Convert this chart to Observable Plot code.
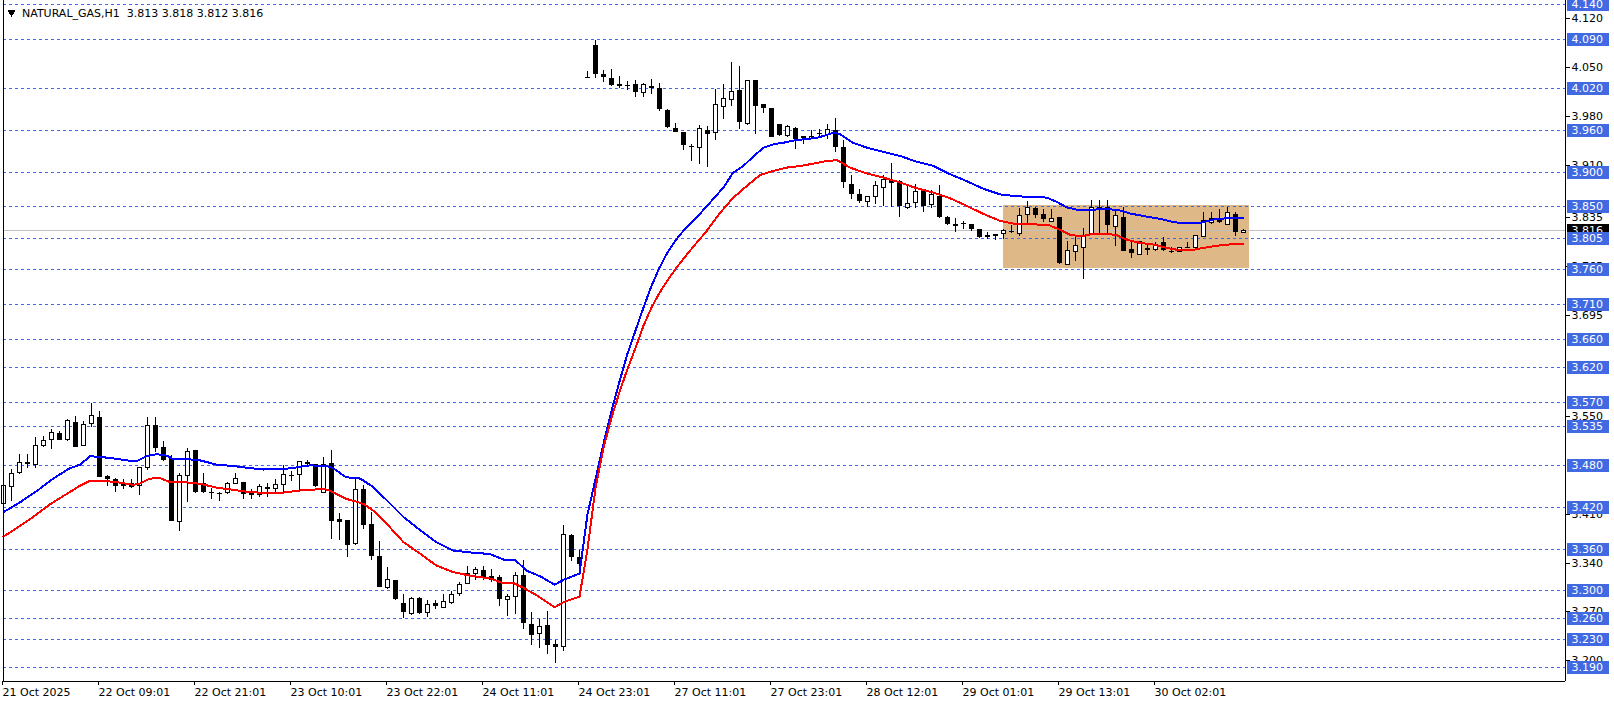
<!DOCTYPE html>
<html><head><meta charset="utf-8">
<script src="https://cdn.jsdelivr.net/npm/d3@7"></script>
<script src="https://cdn.jsdelivr.net/npm/@observablehq/plot@0.6"></script>
<style>
html,body{margin:0;padding:0;background:#fff;}
svg{display:block}
</style></head><body><div id="chart"></div>
<script>
const title = "NATURAL_GAS,H1  3.813 3.818 3.812 3.816";
// one row per H1 bar: [open, high, low, close]
const ohlc = [
[3.425,3.455,3.410,3.451],[3.449,3.474,3.428,3.467],[3.469,3.495,3.467,3.484],[3.4845,3.495,3.476,3.481],
[3.480,3.520,3.4755,3.507],[3.508,3.521,3.506,3.5145],[3.5156,3.532,3.503,3.527],[3.526,3.528,3.515,3.516],
[3.5165,3.545,3.5145,3.544],[3.542,3.550,3.505,3.506],[3.508,3.543,3.507,3.5375],[3.5385,3.568,3.5337,3.550],
[3.549,3.5576,3.462,3.463],[3.464,3.466,3.450,3.459],[3.459,3.461,3.4406,3.450],[3.452,3.459,3.445,3.451],
[3.4535,3.459,3.447,3.448],[3.450,3.476,3.437,3.4755],[3.4764,3.548,3.4726,3.536],[3.5375,3.548,3.499,3.5036],
[3.5056,3.5146,3.486,3.487],[3.490,3.4946,3.399,3.400],[3.399,3.469,3.3857,3.464],[3.464,3.504,3.4263,3.499],
[3.501,3.5017,3.439,3.4406],[3.4545,3.4678,3.4397,3.4406],[3.4415,3.4468,3.431,3.4395],[3.4395,3.4406,3.4277,3.4392],
[3.4397,3.455,3.438,3.4526],[3.4535,3.469,3.4526,3.4597],[3.456,3.456,3.431,3.4377],[3.4395,3.4454,3.431,3.4368],
[3.4372,3.4526,3.4334,3.4487],[3.4478,3.4535,3.4334,3.445],[3.4468,3.4597,3.4406,3.4511],[3.4516,3.4798,3.4406,3.4655],
[3.4645,3.4717,3.4573,3.465],[3.4655,3.486,3.4445,3.4841],[3.4836,3.487,3.480,3.4808],[3.4812,3.4817,3.4478,3.4492],
[3.440,3.4917,3.4397,3.481],[3.483,3.5015,3.374,3.400],[3.403,3.4112,3.373,3.3977],[3.4003,3.401,3.3478,3.3645],
[3.3678,3.460,3.3645,3.4442],[3.4456,3.4504,3.3883,3.3931],[3.3955,3.4122,3.3439,3.3492],[3.3487,3.3707,3.3048,3.3048],
[3.3038,3.3334,3.3024,3.3153],[3.3153,3.3153,3.2871,3.2881],[3.2823,3.2952,3.2609,3.2690],[3.2666,3.2905,3.2656,3.289],
[3.289,3.290,3.2666,3.2675],[3.269,3.2857,3.2618,3.2795],[3.2823,3.2857,3.2738,3.2776],[3.2761,3.2943,3.2752,3.2838],
[3.2823,3.299,3.2809,3.2943],[3.2952,3.312,3.2928,3.3086],[3.3096,3.3358,3.3086,3.3248],[3.3248,3.3334,3.3153,3.3296],
[3.3287,3.3358,3.3153,3.3191],[3.3204,3.3304,3.3122,3.3146],[3.3191,3.3229,3.2779,3.2881],[3.2866,3.2952,3.2631,3.2914],
[3.2919,3.3263,3.2666,3.3215],[3.3229,3.3442,3.2454,3.2535],[3.2523,3.2693,3.2216,3.2359],[3.2383,3.2597,3.2177,3.2488],
[3.2502,3.2702,3.2087,3.2216],[3.223,3.2287,3.1962,3.2192],[3.2192,3.3934,3.2134,3.3805],[3.3791,3.3815,3.3423,3.3481],
[3.348,3.3586,3.327,3.3376],[4.036,4.044,4.036,4.036],[4.0806,4.0878,4.0338,4.040],[4.040,4.0458,4.0281,4.0353],
[4.0343,4.0472,4.0219,4.0243],[4.0248,4.0362,4.020,4.0224],[4.0243,4.0295,4.0171,4.0243],[4.0257,4.0315,4.0066,4.0138],
[4.0128,4.0272,4.0066,4.0248],[4.0219,4.032,4.0114,4.020],[4.020,4.0272,3.9866,3.989],[3.9875,3.989,3.9627,3.9637],
[3.9627,3.9699,3.957,3.957],[3.956,3.956,3.9302,3.9384],[3.9367,3.940,3.915,3.9362],[3.9341,3.967,3.9112,3.9613],
[3.9598,3.9646,3.9064,3.9541],[3.9555,4.0186,3.9446,3.9961],[3.9937,4.0248,3.9756,4.0042],[4.0028,4.0563,3.9933,4.0143],
[4.0162,4.0506,3.9603,3.9708],[3.9694,4.0315,3.966,4.0305],[4.0305,4.0305,3.9532,3.9937],[3.9961,3.9961,3.9837,3.9909],
[3.9904,3.9904,3.949,3.9493],[3.9675,3.9675,3.9503,3.9527],[3.9513,3.966,3.9493,3.9646],[3.9627,3.9637,3.9322,3.947],
[3.9508,3.9508,3.940,3.9494],[3.9474,3.960,3.946,3.9503],[3.9546,3.9603,3.950,3.9546],[3.9532,3.9675,3.946,3.9598],
[3.9589,3.977,3.928,3.935],[3.935,3.945,3.877,3.885],[3.8817,3.8946,3.8612,3.8683],[3.8674,3.8745,3.855,3.8578],
[3.8574,3.8645,3.8492,3.8645],[3.865,3.8865,3.8531,3.8803],[3.8779,3.8946,3.8502,3.8889],[3.8875,3.9123,3.8492,3.8836],
[3.886,3.8875,3.8349,3.8502],[3.8482,3.8817,3.8468,3.8545],[3.8564,3.8817,3.8482,3.8717],[3.8717,3.8741,3.8421,3.8502],
[3.8526,3.8741,3.8483,3.8674],[3.865,3.8803,3.834,3.8349],[3.8349,3.8358,3.823,3.8244],[3.8244,3.8339,3.8134,3.8225],
[3.8254,3.8287,3.8182,3.8258],[3.8244,3.8244,3.815,3.8177],[3.8177,3.818,3.8053,3.8063],[3.8063,3.8134,3.8039,3.8087],
[3.8101,3.8101,3.8025,3.8077],[3.8111,3.8182,3.8039,3.8149],[3.8144,3.823,3.812,3.8147],[3.812,3.8476,3.808,3.8366],
[3.8387,3.8581,3.8257,3.8486],[3.8476,3.8492,3.8333,3.8381],[3.839,3.8462,3.8271,3.8319],[3.8292,3.8462,3.8271,3.8335],
[3.8352,3.8355,3.7674,3.7684],[3.7674,3.7999,3.7665,3.7875],[3.7855,3.808,3.7722,3.7937],[3.7913,3.819,3.7459,3.8089],
[3.8104,3.8591,3.8094,3.8486],[3.8486,3.859,3.8104,3.849],[3.8495,3.859,3.8104,3.8233],[3.8214,3.8462,3.7937,3.8366],
[3.8352,3.8486,3.786,3.7865],[3.7889,3.8008,3.776,3.7827],[3.7817,3.8008,3.7808,3.7994],[3.7899,3.7951,3.7808,3.7894],
[3.7889,3.7985,3.7865,3.7951],[3.7985,3.8066,3.7865,3.7879],[3.7865,3.7913,3.7832,3.7841],[3.785,3.7922,3.7841,3.7913],
[3.7913,3.7994,3.7903,3.7918],[3.7913,3.808,3.7903,3.808],[3.8066,3.8414,3.8056,3.8304],[3.8266,3.8414,3.8247,3.8333],
[3.8342,3.8462,3.8257,3.8271],[3.8247,3.8486,3.8233,3.8414],[3.839,3.8414,3.808,3.8128],[3.813,3.818,3.812,3.816]
];
// indicator lines: [bar, price]
const maBlue = [[0,3.413],[2.06,3.427],[4.15,3.443],[6.2,3.461],[8.3,3.476],[9.6,3.481],[10.8,3.493],[12.1,3.492],[13.7,3.490],[15.4,3.487],[16.65,3.486],[17.9,3.493],[19.15,3.496],[20.4,3.494],[21.2,3.489],[22.9,3.489],[24.6,3.487],[26.65,3.481],[28.7,3.479],[30.8,3.476],[32.5,3.474],[35,3.4745],[36.65,3.477],[38.3,3.480],[40.4,3.479],[41.2,3.476],[42.8,3.463],[44.6,3.461],[46.2,3.449],[47.9,3.430],[50,3.406],[52.1,3.387],[54.1,3.370],[56.2,3.358],[58.5,3.355],[60.8,3.353],[62.5,3.345],[64,3.344],[65.4,3.329],[67.1,3.321],[68.9,3.309],[70,3.316],[72,3.325],[73,3.41],[74,3.46],[75,3.511],[76,3.558],[77,3.60],[78,3.64],[79,3.673],[80,3.706],[81,3.737],[82,3.763],[83,3.785],[84,3.802],[85,3.816],[86.65,3.835],[88.3,3.856],[90,3.878],[91.2,3.899],[92.5,3.909],[93.8,3.923],[95,3.935],[96.3,3.940],[97.5,3.942],[98.7,3.945],[100,3.947],[101.65,3.949],[102.9,3.953],[103.7,3.9565],[104.6,3.954],[106.2,3.942],[107.9,3.935],[110,3.929],[112.1,3.923],[114.1,3.915],[116.2,3.909],[118.3,3.897],[120.4,3.887],[122.5,3.876],[124.6,3.868],[126.6,3.8655],[128.7,3.864],[130.4,3.8635],[131.7,3.857],[132.9,3.8495],[134.2,3.846],[135.9,3.846],[137.5,3.847],[139.2,3.846],[140.9,3.8405],[143,3.836],[144.6,3.833],[146.3,3.828],[148,3.827],[149.6,3.827],[151.3,3.832],[153,3.834],[155,3.834]];
const maRed = [[0,3.378],[1.2,3.3866],[3.7,3.406],[5.8,3.424],[7.9,3.439],[9.6,3.451],[10.8,3.458],[12.1,3.458],[14.15,3.456],[16.2,3.452],[17.1,3.454],[18.3,3.461],[19.6,3.4616],[20.8,3.456],[22.5,3.456],[24.6,3.4535],[26.65,3.448],[28.7,3.445],[30.8,3.4415],[32.9,3.4405],[35,3.441],[37.1,3.444],[39.6,3.4458],[40.2,3.446],[41.2,3.4415],[42.8,3.432],[43.9,3.4286],[45,3.4248],[46.2,3.4153],[47.9,3.3962],[50,3.370],[52.1,3.3533],[54.1,3.3365],[56.2,3.327],[58.3,3.322],[60.8,3.318],[62.5,3.311],[63.8,3.311],[65,3.3045],[66.7,3.2935],[68.9,3.2767],[70,3.284],[72,3.292],[73,3.36],[74,3.447],[75,3.505],[76,3.548],[77,3.585],[78,3.618],[79,3.648],[80,3.680],[81,3.706],[82,3.727],[83,3.745],[84,3.761],[85,3.776],[86,3.790],[87.9,3.8157],[89.6,3.842],[91.2,3.863],[92.9,3.880],[94.6,3.896],[96.2,3.9016],[97.9,3.9064],[99.6,3.9088],[101.2,3.912],[102.9,3.916],[104.2,3.917],[105.8,3.9065],[107.9,3.898],[110,3.892],[112.1,3.885],[114.1,3.877],[116.2,3.8707],[118.3,3.8626],[120.4,3.8516],[122.5,3.840],[124.6,3.830],[126.6,3.8253],[128.7,3.8253],[130.8,3.8235],[132.1,3.817],[133.3,3.8104],[134.6,3.808],[136.2,3.8113],[137.9,3.8118],[139.2,3.8094],[140.4,3.8032],[142.1,3.7985],[143.8,3.7961],[145.4,3.7913],[147.1,3.7879],[148.8,3.7889],[150.4,3.7922],[152.1,3.7951],[153.8,3.797],[155,3.797]];
const gridLevels = [4.140,4.090,4.020,3.960,3.900,3.850,3.805,3.760,3.710,3.660,3.620,3.570,3.535,3.480,3.420,3.360,3.300,3.260,3.230,3.190];
const priceTicks = [4.120,4.050,3.980,3.910,3.835,3.765,3.695,3.550,3.410,3.340,3.270,3.200];
const timeTickBars = [0,12,24,36,48,60,72,84,96,108,120,132,144];
const timeLabels = ["21 Oct 2025","22 Oct 09:01","22 Oct 21:01","23 Oct 10:01","23 Oct 22:01","24 Oct 11:01","24 Oct 23:01","27 Oct 11:01","27 Oct 23:01","28 Oct 12:01","29 Oct 01:01","29 Oct 13:01","30 Oct 02:01"];
const currentPrice = 3.816;
const zoneBars = [124.94, 155.69];
const zonePrices = [3.7614, 3.8521];

const data = ohlc.map(([o,h,l,c],i)=>({i,o,h,l,c,up:c>o}));
const labelMap = new Map(timeTickBars.map((b,k)=>[b,timeLabels[k]]));
const xDomain = [0, 195.25];
const yDomain = [3.17038, 4.14573];

const plot = Plot.plot({
  width: 1614, height: 705,
  marginLeft: 3, marginRight: 49, marginTop: 0, marginBottom: 24,
  x: {type:"linear", domain:xDomain, label:null},
  y: {type:"linear", domain:yDomain, label:null},
  style: {fontFamily:"'DejaVu Sans'", fontSize:"11px", color:"black", background:"white", shapeRendering:"crispEdges"},
  marks: [
    Plot.rect([0], {x1: ()=>zoneBars[0], x2: ()=>zoneBars[1], y1: ()=>zonePrices[0], y2: ()=>zonePrices[1], fill:"#DEB887"}),
    Plot.ruleY(gridLevels, {stroke:"#4169E1", strokeDasharray:"3,3"}),
    Plot.ruleY([currentPrice], {stroke:"#C0C0C0"}),
    Plot.ruleX(data, {x:"i", y1:"l", y2:"h", stroke:"black"}),
    Plot.rect(data.filter(d=>!d.up), {x1: d=>d.i-2.5/8, x2: d=>d.i+2.5/8, y1:"o", y2:"c", fill:"black"}),
    Plot.rect(data.filter(d=>d.up), {x1: d=>d.i-2/8, x2: d=>d.i+2/8, y1:"o", y2:"c", fill:"white", stroke:"black"}),
    Plot.ruleY(data.filter(d=>Math.abs(d.c-d.o)<0.0015), {y:"c", x1: d=>d.i-2.5/8, x2: d=>d.i+2.5/8, stroke:"black"}),
    Plot.line(maBlue, {x: d=>d[0], y: d=>d[1], stroke:"#0000FF", strokeWidth:2}),
    Plot.line(maRed, {x: d=>d[0], y: d=>d[1], stroke:"#FF0000", strokeWidth:2}),
    Plot.ruleX(xDomain, {stroke:"black"}),
    Plot.ruleY([yDomain[0]], {stroke:"black"}),
    Plot.axisY(priceTicks, {anchor:"right", label:null, tickSize:4, tickPadding:2, tickFormat:d3.format(".3f"), fill:"black"}),
    Plot.axisX(timeTickBars, {anchor:"bottom", label:null, tickSize:4, tickPadding:3, tickFormat:d=>labelMap.get(d), textAnchor:"start", dx:-1, fill:"black"}),
    Plot.dot([0], {frameAnchor:"top-left", dx:8, dy:12, symbol:"triangle", rotate:180, r:3, fill:"black", stroke:null}),
    Plot.text([title], {frameAnchor:"top-left", dx:18.5, dy:9, lineAnchor:"top", textAnchor:"start", fontSize:11, fill:"black"})
  ]
});
document.getElementById("chart").appendChild(plot);

// price tags on the right scale, positioned through Plot's own scales
const ys = plot.scale("y"), xs = plot.scale("x");
const xr = xs.range[1];
const svg = d3.select(plot);
const tags = svg.append("g")
  .attr("font-family","DejaVu Sans").attr("font-size",11)
  .attr("text-anchor","start").attr("shape-rendering","crispEdges");
function tag(v, bg) {
  const yy = Math.round(ys.apply(v));
  tags.append("rect").attr("x", xr+1.5).attr("y", yy-6).attr("width",42).attr("height",13).attr("fill",bg);
  tags.append("text").attr("x", xr+6.5).attr("y", yy+0.5).attr("dy","0.36em").attr("fill","white").text(v.toFixed(3));
}
tag(currentPrice, "black");
gridLevels.forEach(v=>tag(v,"#4169E1"));
</script></body></html>
